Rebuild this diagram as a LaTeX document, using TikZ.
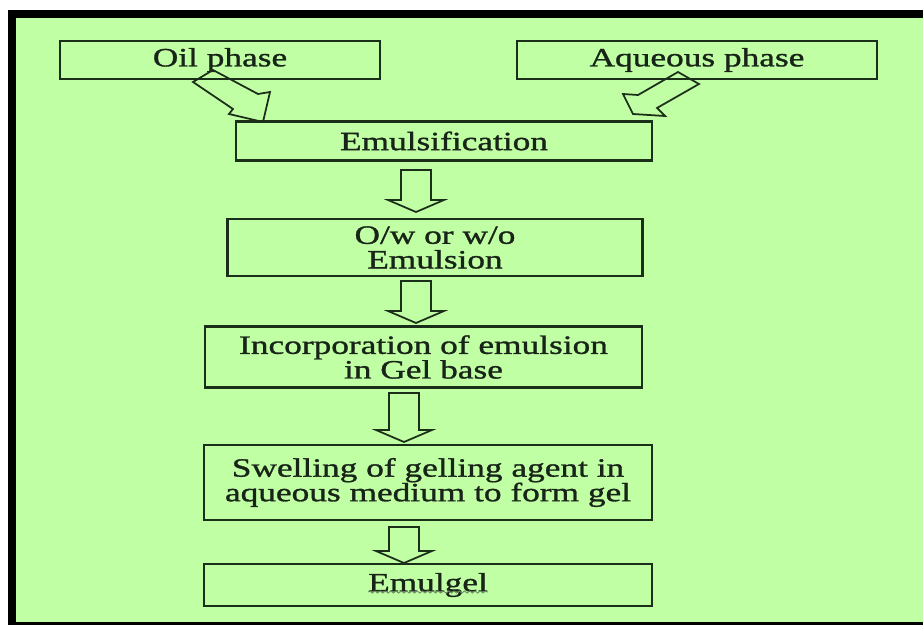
\documentclass[tikz,border=0pt]{standalone}
\usepackage{fontspec}
\setmainfont[FakeStretch=1.34, FakeBold=1.2]{Liberation Serif}
\usepackage{xcolor}
\usepackage{tikz}
\usetikzlibrary{decorations.pathmorphing}

\definecolor{bggreen}{RGB}{193,255,164}
\definecolor{boxline}{RGB}{26,46,26}
\definecolor{textdark}{RGB}{24,36,24}
\definecolor{squiggle}{RGB}{110,140,100}

\begin{document}
\begin{tikzpicture}[
    x=0.02cm, y=-0.02cm,
    font=\fontsize{15}{14}\selectfont,
    stepbox/.style={
        draw=boxline, line width=1.3pt, rectangle, inner sep=2pt, align=center, text=textdark
    },
    hollow arrow/.style={draw=boxline, line width=1pt, line join=miter},
    pics/downarrow/.style={code={
        \draw[hollow arrow] (-15,0) -- (-15,#1-12) -- (-28,#1-12) -- (0,#1) -- (28,#1-12) -- (15,#1-12) -- (15,0) -- cycle;
    }}
]
\useasboundingbox (0,0) rectangle (923,625);

% --- RAHMEN ---
\fill[white] (0,0) rectangle (923,625);
\fill[black] (8,10) rectangle (923,625);
\fill[bggreen] (16,18) rectangle (923,622);

% --- PHASEN ---
\node[stepbox, minimum width=6.4cm, minimum height=0.76cm] (oil) at (220,60) {Oil phase};
\node[stepbox, minimum width=7.2cm, minimum height=0.76cm] (aqueous) at (697,60) {Aqueous phase};
\node[stepbox, minimum width=8.32cm, minimum height=0.78cm] (emulsify) at (444,141) {Emulsification};

% schraege Pfeile (ohne Fuellung, ueber den Kasten gezeichnet)
\draw[hollow arrow] (193,82) -- (233,109) -- (229,114) -- (263,122) -- (270,92) -- (258,94) -- (213,70) -- cycle;
\draw[hollow arrow] (678,72) -- (638,95) -- (623,94) -- (633,114) -- (665,116) -- (657,108) -- (699,84) -- cycle;

% --- ABLAUF ---
\node[stepbox, minimum width=8.3cm, minimum height=1.14cm] (emulsion) at (435,247.5) {O/w or w/o\\Emulsion};
\node[stepbox, minimum width=8.74cm, minimum height=1.22cm] (gelbase) at (423.5,357) {Incorporation of emulsion\\in Gel base};
\node[stepbox, minimum width=8.96cm, minimum height=1.5cm] (swelling) at (428,482.5) {Swelling of gelling agent in\\aqueous medium to form gel};
\node[stepbox, minimum width=8.96cm, minimum height=0.84cm] (emulgel) at (428,585) {Emulgel};

\pic at (416,170) {downarrow=42};
\pic at (416,281) {downarrow=42};
\pic at (404,393) {downarrow=49};
\pic at (404,527) {downarrow=36};

% Wellenlinie unter "Emulgel"
\draw[squiggle, line width=0.5pt, decorate, decoration={snake, amplitude=0.6pt, segment length=3pt}] (368,592) -- (488,592);
\end{tikzpicture}
\end{document}
